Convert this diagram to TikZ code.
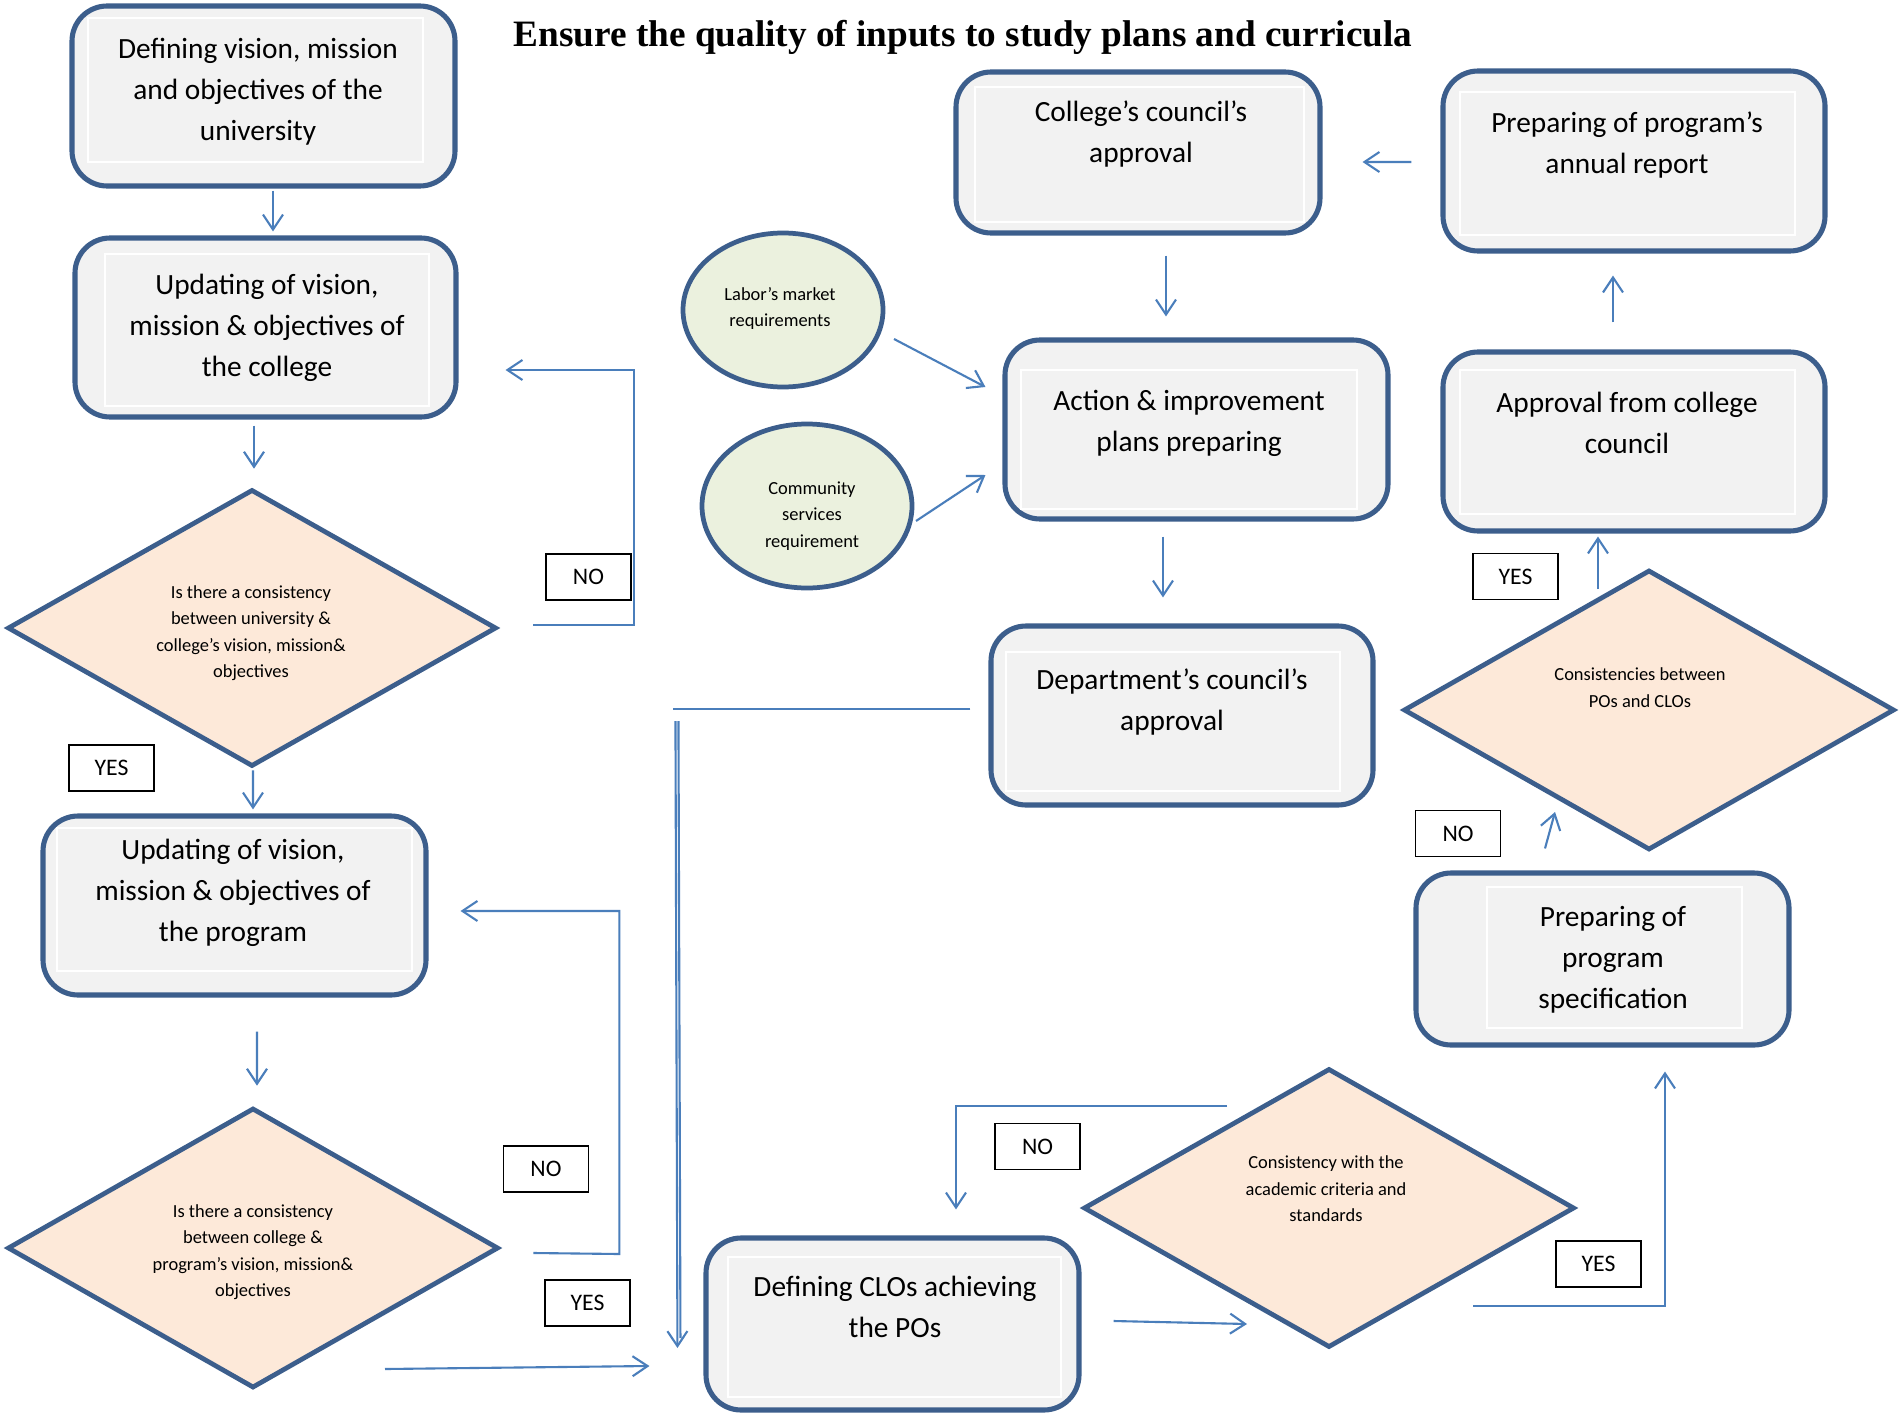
\documentclass[tikz,border=0pt]{standalone}
\usepackage{fontspec}
\setmainfont{Carlito}
\newfontfamily\titlefont{Liberation Serif}
\usetikzlibrary{shapes.geometric,arrows.meta,calc}
\definecolor{bdr}{RGB}{60,94,140}
\definecolor{arrc}{RGB}{74,126,187}
\definecolor{boxfill}{RGB}{242,242,242}
\definecolor{diafill}{RGB}{253,233,217}
\definecolor{ellfill}{RGB}{235,241,222}
\begin{document}
\begin{tikzpicture}[x=0.02cm,y=-0.02cm,
  sz/.style 2 args={minimum width={#1*0.02cm},minimum height={#2*0.02cm}},
  box/.style={draw=bdr,line width=2.9pt,fill=boxfill,rounded corners=20pt,inner sep=0pt},
  dia/.style={diamond,draw=bdr,line width=2.7pt,fill=diafill,inner sep=0pt},
  ell/.style={ellipse,draw=bdr,line width=2.7pt,fill=ellfill,inner sep=0pt},
  inr/.style={draw=white,line width=0.8pt},
  bigtxt/.style={align=center,font=\fontsize{16.7}{23.3}\selectfont,inner sep=0pt},
  smtxt/.style={align=center,font=\fontsize{10.5}{15}\selectfont,inner sep=0pt},
  lab/.style={draw=black,line width=0.7pt,fill=white,inner sep=0pt,font=\fontsize{13.5}{16}\selectfont},
  arr/.style={draw=arrc,line width=1.2pt,-{Straight Barb[length=3mm,width=4mm]}},
  ln/.style={draw=arrc,line width=1.2pt},
]
\useasboundingbox[fill=white] (0,0) rectangle (1900,1416);

% title
\node[font=\titlefont\bfseries\fontsize{21.2}{25}\selectfont,inner sep=0pt] (title) at (963,37.5) {Ensure the quality of inputs to study plans and curricula};

% boxes
\node[box,sz={383}{180}] (A) at (263.5,96) {};
\node[box,sz={381}{179}] (B) at (265.5,327.5) {};
\node[box,sz={383}{179}] (C) at (234.5,905.5) {};
\node[box,sz={373}{172}] (D) at (892.5,1324) {};
\node[box,sz={373}{172}] (E) at (1602.5,959) {};
\node[box,sz={382}{179}] (F) at (1634,441.5) {};
\node[box,sz={382}{180}] (G) at (1634,161) {};
\node[box,sz={364}{161}] (H) at (1138,152.5) {};
\node[box,sz={383}{179}] (I) at (1196.5,429.5) {};
\node[box,sz={382}{179}] (J) at (1182,715.5) {};

% inner faint frames
\draw[inr] (88,18) rectangle (423,162);
\draw[inr] (105,254) rectangle (429,406);
\draw[inr] (57,828) rectangle (412,971);
\draw[inr] (1460,92) rectangle (1795,235);
\draw[inr] (1460,370) rectangle (1795,514);
\draw[inr] (975,87) rectangle (1304,222);
\draw[inr] (1021,370) rectangle (1357,509);
\draw[inr] (1006,652) rectangle (1340,791);
\draw[inr] (1487,887) rectangle (1742,1028);
\draw[inr] (728,1257) rectangle (1061,1397);

% diamonds
\node[dia,sz={489}{277}] (D1) at (252,628) {};
\node[dia,sz={491}{280}] (D2) at (253,1248) {};
\node[dia,sz={491}{279}] (D3) at (1329,1208) {};
\node[dia,sz={491}{280}] (D4) at (1649,710) {};

% ellipses
\node[ell,sz={200}{154}] (L1) at (783,310) {};
\node[ell,sz={210}{164}] (L2) at (807,506) {};

% texts
\node[bigtxt] (tA) at (258,92) {Defining vision, mission\\and objectives of the\\university};
\node[bigtxt] (tB) at (267,328) {Updating of vision,\\mission \& objectives of\\the college};
\node[bigtxt] (tC) at (233,893) {Updating of vision,\\mission \& objectives of\\the program};
\node[bigtxt] (tD) at (895,1307) {Defining CLOs achieving\\the POs};
\node[bigtxt] (tE) at (1613,960) {Preparing of\\program\\specification};
\node[bigtxt] (tF) at (1627,423) {Approval from college\\council};
\node[bigtxt] (tG) at (1627,145) {Preparing of program’s\\annual report};
\node[bigtxt] (tH) at (1141,134) {College’s council’s\\approval};
\node[bigtxt] (tI) at (1189,423) {Action \& improvement\\plans preparing};
\node[bigtxt] (tJ) at (1172,702) {Department’s council’s\\approval};
\node[smtxt] (tD1) at (251,633) {Is there a consistency\\between university \&\\college’s vision, mission\&\\objectives};
\node[smtxt] (tD2) at (253,1252) {Is there a consistency\\between college \&\\program’s vision, mission\&\\objectives};
\node[smtxt] (tD3) at (1326,1189) {Consistency with the\\academic criteria and\\standards};
\node[smtxt] (tD4) at (1640,687.5) {Consistencies between\\POs and CLOs};
\node[smtxt] (tL1) at (780,308.5) {Labor’s market\\requirements};
\node[smtxt] (tL2) at (812,516) {Community\\services\\requirement};

% labels
\node[lab,sz={85}{46}] (no1) at (588.5,577) {NO};
\node[lab,sz={85}{46}] (yes1) at (111.5,768) {YES};
\node[lab,sz={85}{46}] (no2) at (546,1169) {NO};
\node[lab,sz={85}{46}] (yes2) at (587.5,1303) {YES};
\node[lab,sz={85}{46}] (no3) at (1037.5,1146.5) {NO};
\node[lab,sz={85}{46}] (yes3) at (1598.5,1264) {YES};
\node[lab,sz={85}{46}] (no4) at (1458,833.5) {NO};
\node[lab,sz={85}{46}] (yes4) at (1515.5,576.5) {YES};

% connectors
\draw[arr] ($(A.south)+(9.5,2)$) -- ($(B.north)+(7.5,-4)$);
\draw[arr] ($(B.south)+(-11.5,6)$) -- ($(D1.north)+(2,-18.5)$);
\draw[arr] ($(D1.east)+(34.5,-3)$) -- ++(101,0) |- ($(B.east)+(47,42.5)$);
\draw[arr] ($(D1.south)+(1,1.5)$) -- ($(C.north)+(18.5,-4)$);
\draw[arr] ($(C.south)+(22.5,34)$) -- ($(D2.north)+(4,-20)$);
\draw[arr] ($(D2.east)+(32.5,5)$) -- ++(86,1) |- ($(C.east)+(32,5.5)$);
\draw[arr] ($(D2.center)+(132,121)$) -- ($(D.west)+(-54,42)$);
\draw[ln] ($(J.west)+(-18,-6.5)$) -- ++(-297,0) coordinate (jl);
\draw[ln] ($(jl)+(5,12)$) -- ($(D.west)+(-23,14)$);
\draw[arr] ($(jl)+(2,12)$) -- ($(D.west)+(-26,24)$);
\draw[arr] ($(D.east)+(32,-3)$) -- ($(D3.center)+(-82,116)$);
\draw[arr] ($(D3.north)+(-102,39.5)$) -| ($(D.north)+(63.5,-26)$);
\draw[arr] ($(D3.center)+(144,98)$) -| ($(E.south)+(62.5,24)$);
\draw[arr] ($(E.north)+(-57.5,-22)$) -- ($(D4.center)+(-94,102)$);
\draw[arr] ($(D4.center)+(-51,-121)$) -- ($(F.south)+(-36,3)$);
\draw[arr] ($(F.north)+(-21,-27)$) -- ($(G.south)+(-21,22)$);
\draw[arr] ($(G.west)+(-29,1)$) -- ($(H.east)+(40,9.5)$);
\draw[arr] ($(H.south)+(28,20)$) -- ($(I.north)+(-30.5,-21)$);
\draw[arr] ($(I.south)+(-33.5,15)$) -- ($(J.north)+(-19,-26)$);
\draw[arr] ($(L1.center)+(111,29)$) -- ($(I.west)+(-17,-42.5)$);
\draw[arr] ($(L2.center)+(109,15)$) -- ($(I.west)+(-17,45.5)$);
\end{tikzpicture}
\end{document}
